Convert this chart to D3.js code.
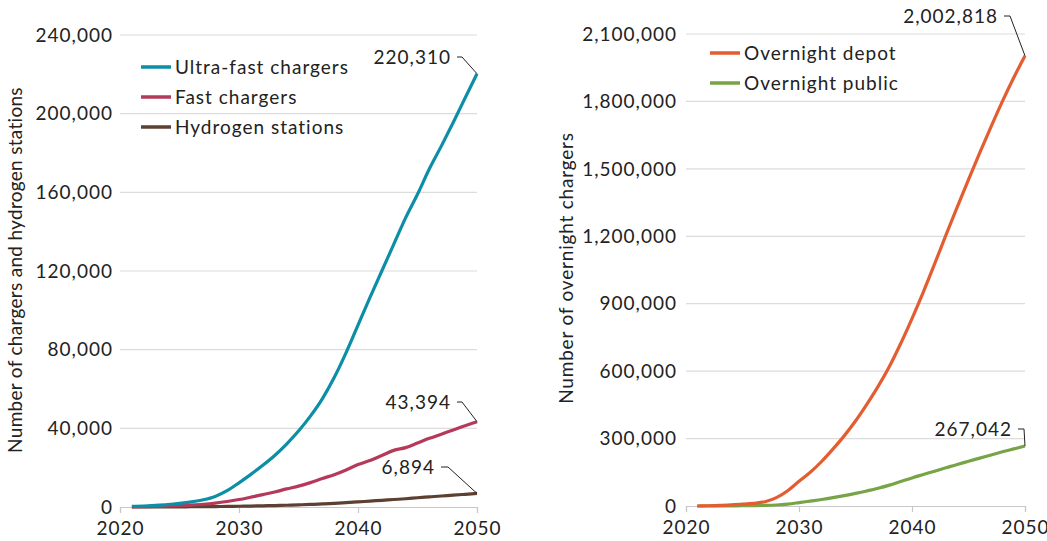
<!DOCTYPE html>
<html>
<head>
<meta charset="utf-8">
<script src="https://cdn.jsdelivr.net/npm/d3@7"></script>
<style>
  body { margin: 0; background: #fff; }
  svg text { font-family: Lato, "Open Sans", sans-serif; fill: #222; letter-spacing: 1px; }
</style>
</head>
<body>
<svg id="chart"></svg>
<script>
var years = d3.range(2021, 2051);

var ultraFast = [300, 500, 800, 1200, 1800, 2600, 3700, 5400, 8300, 12300,
  16600, 21200, 26200, 32000, 38600, 46200, 55000, 65800, 78500, 92500,
  106500, 120000, 133500, 147000, 159000, 172000, 183500, 195500, 208000, 220310];
var fast = [100, 200, 300, 500, 700, 1000, 1400, 2000, 2800, 3800,
  5000, 6300, 7600, 9200, 10600, 12400, 14500, 16400, 18800, 21600,
  23600, 26200, 28800, 30200, 32500, 34900, 37000, 39200, 41300, 43394];
var hydrogen = [0, 10, 30, 50, 80, 120, 170, 230, 300, 380,
  480, 600, 740, 900, 1080, 1300, 1550, 1850, 2200, 2600,
  3000, 3400, 3800, 4200, 4700, 5150, 5600, 6000, 6450, 6894];

var depot = [0, 1000, 2500, 5000, 8000, 12000, 19000, 37000, 68000, 110000,
  150000, 198000, 253000, 312000, 378000, 452000, 532000, 621000, 723000, 834000,
  952000, 1077000, 1205000, 1330000, 1452000, 1572000, 1688000, 1800000, 1905000, 2002818];
var publicNight = [0, 100, 300, 600, 1000, 1600, 2500, 4500, 8500, 15000,
  22000, 29000, 37000, 46000, 56000, 67000, 79000, 93000, 109000, 125000,
  140000, 155000, 170000, 185000, 199000, 213000, 227000, 241000, 254000, 267042];

var xTicks = [2020, 2030, 2040, 2050];
var leftTicks = [0, 40000, 80000, 120000, 160000, 200000, 240000];
var rightTicks = [0, 300000, 600000, 900000, 1200000, 1500000, 1800000, 2100000];

var leftSeries = [
  { name: "Ultra-fast chargers", values: ultraFast, color: "#0b8ea6" },
  { name: "Fast chargers", values: fast, color: "#b53a5a" },
  { name: "Hydrogen stations", values: hydrogen, color: "#5e4032" }
];
var rightSeries = [
  { name: "Overnight depot", values: depot, color: "#e35d30" },
  { name: "Overnight public", values: publicNight, color: "#77a446" }
];

var W = 1047, H = 541;
var svg = d3.select("#chart").attr("width", W).attr("height", H);
var fmt = d3.format(",");

function panel(opts) {
  var x = d3.scaleLinear().domain([2020, 2050]).range([opts.x0, opts.x1]);
  var y = d3.scaleLinear().domain([0, opts.max]).range([opts.y0, opts.y1]);
  var g = svg.append("g");

  // gridlines
  g.selectAll(".grid").data(opts.ticks.slice(1)).enter().append("line")
    .attr("x1", opts.x0).attr("x2", opts.x1)
    .attr("y1", function(d) { return y(d); })
    .attr("y2", function(d) { return y(d); })
    .attr("stroke", "#dcdcdc").attr("stroke-width", 1.2);

  // y tick labels
  g.selectAll(".ylab").data(opts.ticks).enter().append("text")
    .attr("x", opts.x0 - opts.gap)
    .attr("y", function(d) { return y(d); })
    .attr("dy", "0.35em")
    .attr("text-anchor", "end")
    .style("font-size", "19px")
    .text(function(d) { return fmt(d); });

  // x axis
  var xAxis = d3.axisBottom(x).tickValues(xTicks).tickFormat(d3.format("d"))
    .tickSize(6).tickPadding(9);
  var ax = g.append("g")
    .attr("transform", "translate(0," + opts.y0 + ")")
    .call(xAxis);
  ax.select(".domain").attr("stroke", "#c8c8c8").attr("stroke-width", 1.2);
  ax.selectAll(".tick line").attr("stroke", "#c8c8c8").attr("stroke-width", 1.2);
  ax.selectAll(".tick text").style("font-size", "19px").attr("fill", "#222")
    .style("font-family", "Lato, 'Open Sans', sans-serif");

  // y title
  g.append("text")
    .attr("transform", "translate(" + opts.titleX + "," + opts.titleY + ") rotate(-90)")
    .attr("text-anchor", "middle")
    .style("font-size", "19px")
    .style("letter-spacing", opts.titleSpacing)
    .text(opts.title);

  var line = d3.line()
    .x(function(d, i) { return x(years[i]); })
    .y(function(d) { return y(d); })
    .curve(d3.curveMonotoneX);

  opts.series.slice().reverse().forEach(function(s) {
    g.append("path")
      .datum(s.values)
      .attr("d", line)
      .attr("fill", "none")
      .attr("stroke", s.color)
      .attr("stroke-width", 3.2)
      .attr("stroke-linejoin", "round");
  });

  // legend
  opts.series.forEach(function(s, i) {
    var ly = opts.legY + i * 30;
    g.append("line")
      .attr("x1", opts.legX).attr("x2", opts.legX + 30)
      .attr("y1", ly).attr("y2", ly)
      .attr("stroke", s.color).attr("stroke-width", 3.5);
    g.append("text")
      .attr("x", opts.legX + 34).attr("y", ly).attr("dy", "0.35em")
      .style("font-size", "19px")
      .text(s.name);
  });

  // end labels with leader lines
  opts.labels.forEach(function(l) {
    var s = opts.series[l.idx];
    var v = s.values[s.values.length - 1];
    var px = x(2050), py = y(v);
    var ty = l.ty;
    g.append("text")
      .attr("x", l.tx).attr("y", ty).attr("dy", "0.35em")
      .attr("text-anchor", "end")
      .style("font-size", "19px")
      .text(fmt(v));
    g.append("path")
      .attr("d", "M" + (l.tx + 6) + "," + ty + "H" + (l.tx + 6 + l.h) + "L" + px + "," + py)
      .attr("fill", "none").attr("stroke", "#222").attr("stroke-width", 1);
  });
}

panel({
  x0: 120, x1: 477, y0: 507, y1: 35, max: 240000, gap: 7,
  ticks: leftTicks, series: leftSeries,
  title: "Number of chargers and hydrogen stations", titleX: 22, titleY: 270, titleSpacing: "0.3px",
  legX: 141, legY: 67,
  labels: [
    { idx: 0, tx: 451, ty: 57, h: 5 },
    { idx: 1, tx: 451, ty: 402, h: 5 },
    { idx: 2, tx: 435, ty: 467, h: 7 }
  ]
});

panel({
  x0: 686, x1: 1025, y0: 506, y1: 34, max: 2100000, gap: 9,
  ticks: rightTicks, series: rightSeries,
  title: "Number of overnight chargers", titleX: 573, titleY: 268, titleSpacing: "0.8px",
  legX: 710, legY: 53,
  labels: [
    { idx: 0, tx: 998, ty: 16, h: 6 },
    { idx: 1, tx: 1012, ty: 429, h: 6 }
  ]
});
</script>
</body>
</html>
